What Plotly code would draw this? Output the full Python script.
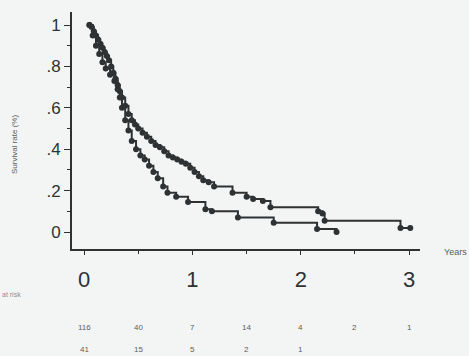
import plotly.graph_objects as go

# Upper curve (group 1, n=116)
t_upper = [0.05, 0.07, 0.09, 0.11, 0.13, 0.15, 0.17, 0.19, 0.21, 0.23, 0.25, 0.27, 0.29, 0.31,
           0.33, 0.35, 0.38, 0.41, 0.44, 0.47, 0.50, 0.54, 0.58, 0.62, 0.66, 0.70, 0.74, 0.78,
           0.82, 0.86, 0.90, 0.94, 0.98, 1.02, 1.06, 1.10, 1.15, 1.20, 1.37, 1.50, 1.56, 1.65,
           1.72, 2.16, 2.20, 2.22, 2.92, 3.01]
s_upper = [1.00, 0.99, 0.97, 0.95, 0.93, 0.91, 0.89, 0.87, 0.85, 0.83, 0.80, 0.77, 0.74, 0.71,
           0.68, 0.65, 0.61, 0.57, 0.54, 0.52, 0.50, 0.48, 0.46, 0.44, 0.42, 0.41, 0.39, 0.37,
           0.36, 0.35, 0.34, 0.33, 0.31, 0.29, 0.27, 0.25, 0.24, 0.22, 0.19, 0.17, 0.16, 0.15,
           0.12, 0.10, 0.09, 0.055, 0.02, 0.02]

# Lower curve (group 2, n=41)
t_lower = [0.05, 0.08, 0.11, 0.14, 0.17, 0.20, 0.24, 0.28, 0.31, 0.33, 0.35, 0.38, 0.41, 0.44,
           0.48, 0.52, 0.56, 0.60, 0.64, 0.68, 0.73, 0.77, 0.85, 0.96, 1.12, 1.18, 1.42, 1.75,
           2.15, 2.33]
s_lower = [1.00, 0.95, 0.90, 0.86, 0.82, 0.79, 0.76, 0.73, 0.69, 0.65, 0.60, 0.54, 0.49, 0.44,
           0.40, 0.37, 0.35, 0.32, 0.29, 0.26, 0.22, 0.19, 0.17, 0.145, 0.11, 0.10, 0.07, 0.045,
           0.015, 0.0]

# Number at risk
risk_times = [0, 0.5, 1, 1.5, 2, 2.5, 3]
risk_upper = ["116", "40", "7", "14", "4", "2", "1"]
risk_lower = ["41", "15", "5", "2", "1", "", ""]

y_ticks = [0, 0.2, 0.4, 0.6, 0.8, 1]
y_ticklabels = ["0", ".2", ".4", ".6", ".8", "1"]
x_ticks = [0, 1, 2, 3]

ink = "#2e3232"
soft = "#5a5f5f"
bg = "#f3f5f5"

# plot area in pixels
L, R, T, B = 72, 420, 12, 249


def px(xp):
    return (xp - L) / (R - L)


def py(yp):
    return (B - yp) / (B - T)


fig = go.Figure()
for t, s in [(t_upper, s_upper), (t_lower, s_lower)]:
    fig.add_trace(go.Scatter(
        x=t, y=s, mode="lines+markers", line_shape="hv",
        line=dict(color=ink, width=2),
        marker=dict(color=ink, size=6),
        showlegend=False, cliponaxis=False,
    ))

# at-risk numbers
for row_vals, ypix in [(risk_upper, 327), (risk_lower, 349)]:
    for t, v in zip(risk_times, row_vals):
        if v:
            fig.add_annotation(x=t, xref="x", y=py(ypix), yref="paper",
                               text=v, showarrow=False, yanchor="middle",
                               font=dict(size=8, color=soft, family="Arial"))

fig.add_annotation(x=px(0), xref="paper", y=py(294), yref="paper",
                   text="at risk", showarrow=False, xanchor="left", yanchor="middle",
                   font=dict(size=7, color="#8a8f8f", family="Arial"))
fig.add_annotation(x=px(442), xref="paper", y=py(252), yref="paper",
                   text="Years", showarrow=False, xanchor="left", yanchor="middle",
                   font=dict(size=9, color=soft, family="Arial"))
fig.add_annotation(x=px(14), xref="paper", y=py(145), yref="paper",
                   text="Survival rate (%)", textangle=-90, showarrow=False,
                   xanchor="center", yanchor="middle",
                   font=dict(size=8, color=soft, family="Arial"))

fig.update_layout(
    width=469, height=356,
    margin=dict(l=L, r=469 - R, t=T, b=356 - B),
    paper_bgcolor=bg, plot_bgcolor=bg,
    font=dict(family="Arial", color=ink),
    xaxis=dict(range=[-0.111, 3.10], tickvals=x_ticks, showgrid=False, zeroline=False,
               showline=True, linecolor=ink, linewidth=2, ticks="outside", ticklen=4,
               tickcolor=ink, tickfont=dict(size=22, color=ink), ticklabelstandoff=6,
               minor=dict(tickvals=[0.5, 1.5, 2.5], ticks="outside", ticklen=3, tickcolor=ink)),
    yaxis=dict(range=[-0.082, 1.063], tickvals=y_ticks, ticktext=y_ticklabels,
               showgrid=False, zeroline=False, showline=True, linecolor=ink, linewidth=2,
               ticks="outside", ticklen=6, tickcolor=ink, tickfont=dict(size=17, color=ink),
               minor=dict(tickvals=[0.1, 0.3, 0.5, 0.7, 0.9], ticks="outside", ticklen=3,
                          tickcolor=ink)),
)

fig.write_html("out.html")
